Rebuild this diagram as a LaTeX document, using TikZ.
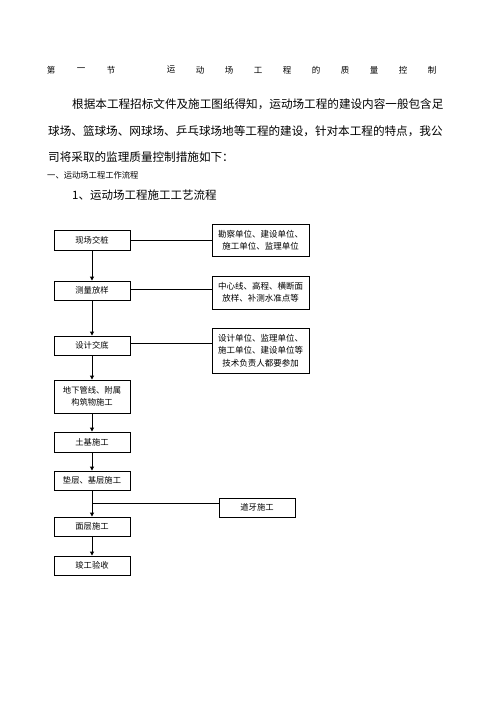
\documentclass[tikz,border=0pt]{standalone}
\usepackage{fontspec}
\setmainfont{Noto Sans CJK SC}
\usetikzlibrary{arrows.meta}
\begin{document}
\begin{tikzpicture}[x=1pt,y=-1pt,
  lbox/.style={draw=black,line width=0.9pt,minimum width=76pt,inner sep=0pt,font=\fontsize{8.3}{12}\selectfont,align=center},
  rbox/.style={draw=black,line width=0.9pt,minimum width=97pt,inner sep=0pt,font=\fontsize{8.5}{12.5}\selectfont,align=center},
  flow/.style={line width=0.9pt,-{Triangle[length=4pt,width=4pt]}},
  link/.style={line width=0.9pt},
  tch/.style={font=\fontsize{8.5}{10}\selectfont,inner sep=0pt},
  para/.style={font=\fontsize{11.6}{14}\selectfont,inner sep=0pt,anchor=west}]
\useasboundingbox (0,0) rectangle (496,702);
\fill[white] (0,0) rectangle (496,702);
% title
\foreach \c/\x [count=\i] in {第/51,一/81,节/111,运/171,动/200,场/229,工/258,程/287,的/316,质/345,量/374,控/403,制/432}
  \node[tch] (t\i) at (\x,70) {\c};
% paragraph
\node[para] (p1) at (72,104) {根据本工程招标文件及施工图纸得知，运动场工程的建设内容一般包含足};
\node[para] (p2) at (48,131) {球场、篮球场、网球场、乒乓球场地等工程的建设，针对本工程的特点，我公};
\node[para] (p3) at (48,157) {司将采取的监理质量控制措施如下：};
\node[inner sep=0pt,anchor=west,font=\fontsize{8.3}{10}\selectfont] (h1) at (47,175) {一、运动场工程工作流程};
\node[inner sep=0pt,anchor=west,font=\fontsize{11.5}{14}\selectfont] (h2) at (72,195) {1、运动场工程施工工艺流程};
% left boxes
\node[lbox,minimum height=20pt] (b1) at (92,240) {现场交桩};
\node[lbox,minimum height=19pt] (b2) at (92,290.5) {测量放样};
\node[lbox,minimum height=19pt] (b3) at (92,345.5) {设计交底};
\node[lbox,minimum height=33pt] (b4) at (92,396.5) {地下管线、附属\\构筑物施工};
\node[lbox,minimum height=20pt] (b5) at (92,442) {土基施工};
\node[lbox,minimum height=19pt] (b6) at (92,480.5) {垫层、基层施工};
\node[lbox,minimum height=19pt] (b7) at (92,526.5) {面层施工};
\node[lbox,minimum height=19pt] (b8) at (92,565.5) {竣工验收};
% right boxes
\node[rbox,minimum height=32pt] (r1) at (260.5,240) {勘察单位、建设单位、\\施工单位、监理单位};
\node[rbox,minimum height=33pt] (r2) at (260.5,292.5) {中心线、高程、横断面\\放样、补测水准点等};
\node[rbox,minimum height=45pt] (r3) at (260.5,350.5) {设计单位、监理单位、\\施工单位、建设单位等\\技术负责人都要参加};
\node[lbox,minimum height=19pt] (r4) at (257,507.5) {道牙施工};
% connectors
\draw[flow] (b1) -- (b2);
\draw[flow] (b2) -- (b3);
\draw[flow] (b3) -- (b4);
\draw[flow] (b4) -- (b5);
\draw[flow] (b5) -- (b6);
\draw[flow] (b6) -- (b7);
\draw[flow] (b7) -- (b8);
\draw[link] (b1.east) -- (b1.east -| r1.west);
\coordinate (c2) at (130,289);
\draw[link] (c2) -- (c2 -| r2.west);
\coordinate (c3) at (130,343);
\draw[link] (c3) -- (c3 -| r3.west);
\coordinate (j) at (92,503);
\draw[link] (j) -- (j -| r4.west);
\end{tikzpicture}
\end{document}
